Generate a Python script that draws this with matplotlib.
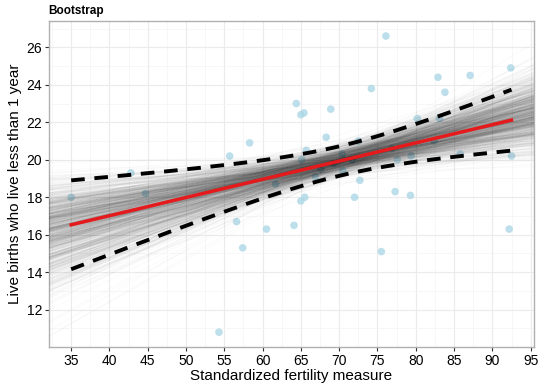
import numpy as np
import matplotlib
matplotlib.use('Agg')
import matplotlib.pyplot as plt

plt.rcParams['font.family'] = ['Liberation Sans', 'DejaVu Sans']

# swiss data: Fertility vs Infant.Mortality
fertility = [80.2, 83.1, 92.5, 85.8, 76.9, 76.1, 83.8, 92.4, 82.4, 82.9, 87.1,
             64.1, 66.9, 68.9, 61.7, 68.3, 71.7, 55.7, 54.3, 65.1, 65.5, 65.0,
             56.6, 57.4, 72.5, 74.2, 72.0, 60.5, 58.3, 65.4, 75.5, 69.3, 77.3,
             70.5, 79.4, 65.0, 92.2, 79.3, 70.4, 65.7, 72.7, 64.4, 77.6, 67.6,
             35.0, 44.7, 42.8]
infant_mort = [22.2, 22.2, 20.2, 20.3, 20.6, 26.6, 23.6, 24.9, 21.0, 24.4, 24.5,
               16.5, 19.1, 22.7, 18.7, 21.2, 20.0, 20.2, 10.8, 20.0, 18.0, 22.4,
               16.7, 15.3, 21.0, 23.8, 18.0, 16.3, 20.9, 22.5, 15.1, 19.8, 18.3,
               19.4, 20.2, 17.8, 16.3, 18.1, 20.3, 20.5, 18.9, 23.0, 20.0, 19.5,
               18.0, 18.2, 19.3]
x_ticks = [35, 40, 45, 50, 55, 60, 65, 70, 75, 80, 85, 90, 95]
y_ticks = [12, 14, 16, 18, 20, 22, 24, 26]

x = np.array(fertility)
y = np.array(infant_mort)
n = len(x)

b1, b0 = np.polyfit(x, y, 1)

# bootstrap fits (resampling rows of the data)
rng = np.random.default_rng(1)
boot = []
for i in range(1000):
    idx = rng.integers(0, n, n)
    boot.append(np.polyfit(x[idx], y[idx], 1))
boot = np.array(boot)

# confidence band of the fit
xg = np.linspace(x.min(), x.max(), 200)
resid = y - (b0 + b1 * x)
s = np.sqrt(np.sum(resid ** 2) / (n - 2))
se = s * np.sqrt(1 / n + (xg - x.mean()) ** 2 / np.sum((x - x.mean()) ** 2))
t = 2.014
fit = b0 + b1 * xg

fig, ax = plt.subplots(figsize=(5.4, 3.86), dpi=100)
fig.subplots_adjust(left=0.091, right=0.988, top=0.945, bottom=0.101)

xl = (32.125, 95.375)
ax.set_xlim(*xl)
ax.set_ylim(10.01, 27.39)

ax.scatter(x, y, s=30, color='#add8e6', alpha=0.8, edgecolors='none', zorder=2)

xx = np.array(xl)
for sl, ic in boot:
    ax.plot(xx, ic + sl * xx, color='#333333', alpha=0.02, lw=0.8, zorder=3)

ax.plot(xg, fit, color='#e41a1c', lw=2.5, zorder=4)
ax.plot(xg, fit + t * se, color='black', lw=2.8, ls=(0, (3.5, 2.5)), zorder=4)
ax.plot(xg, fit - t * se, color='black', lw=2.8, ls=(0, (3.5, 2.5)), zorder=4)

ax.set_xticks(x_ticks)
ax.set_yticks(y_ticks)
ax.set_xticks(np.arange(32.5, 96, 2.5), minor=True)
ax.set_yticks(np.arange(11, 28, 1), minor=True)
ax.grid(which='major', color='#ebebeb', lw=0.8)
ax.grid(which='minor', color='#f4f4f4', lw=0.5)
ax.set_axisbelow(True)
ax.tick_params(which='minor', length=0)
ax.tick_params(which='major', labelsize=10, color='#333333', length=3, pad=2,
               labelcolor='black')
for sp in ax.spines.values():
    sp.set_color('#b0b0b0')
    sp.set_linewidth(1.0)

ax.set_xlabel('Standardized fertility measure', fontsize=11, labelpad=1)
ax.set_ylabel('Live births who live less than 1 year', fontsize=11, labelpad=3)
ax.set_title('Bootstrap', fontsize=8.5, fontweight='bold', loc='left', x=-0.001, pad=5)

fig.savefig('out.png', dpi=100)
